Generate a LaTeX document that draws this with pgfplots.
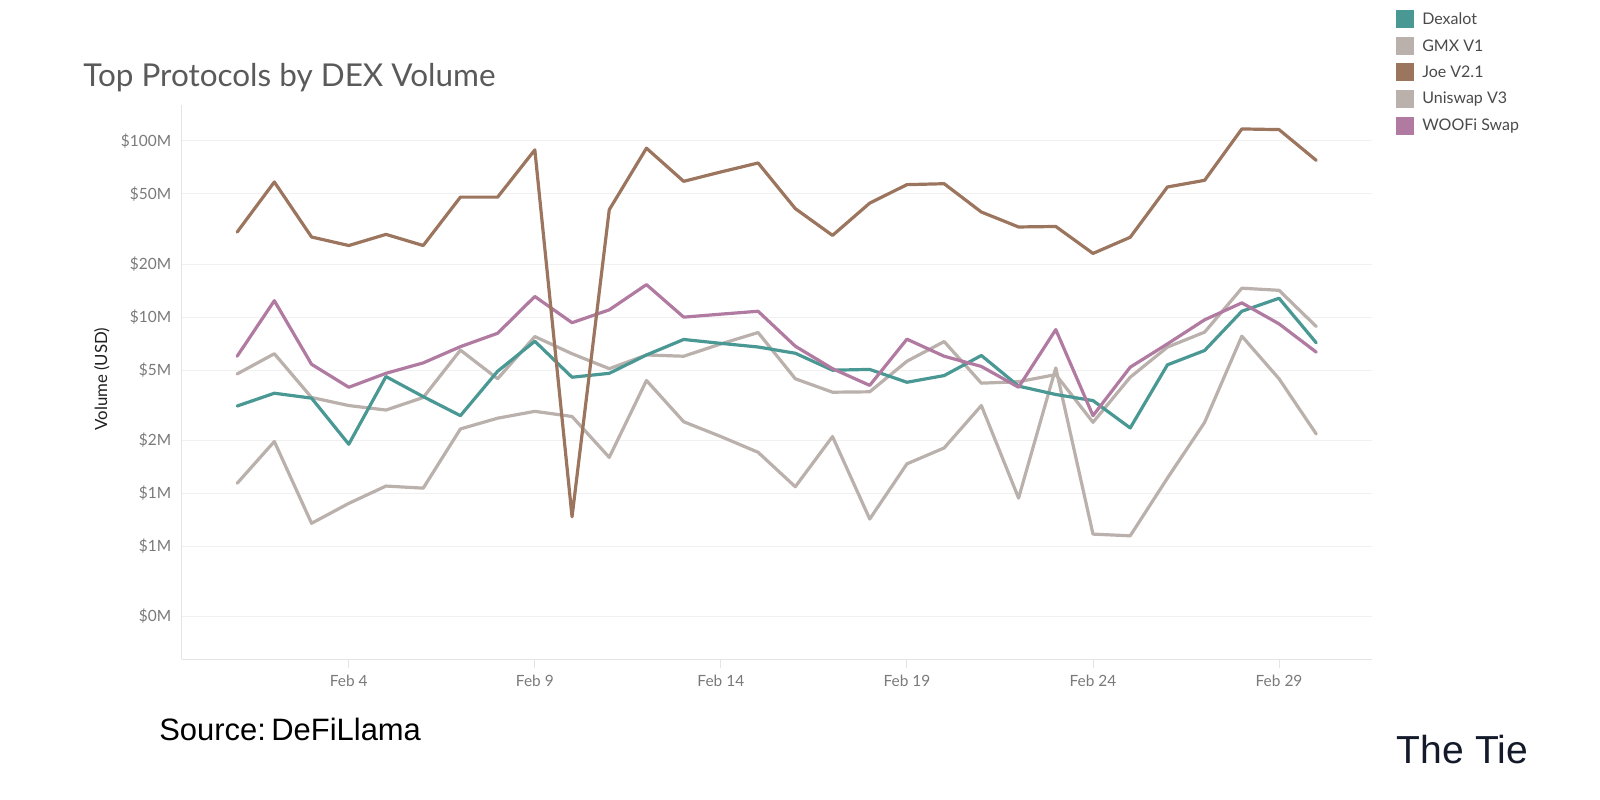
\documentclass[border=0pt]{standalone}
\usepackage{fontspec}
\setmainfont{Lato}
\newfontfamily\arialf{Liberation Sans}
\usepackage{pgfplots}
\pgfplotsset{compat=1.18}
\definecolor{cDex}{HTML}{499894}
\definecolor{cGMX}{HTML}{BAB0AC}
\definecolor{cJoe}{HTML}{9C755F}
\definecolor{cUni}{HTML}{BAB0AC}
\definecolor{cWoo}{HTML}{B07AA1}
\definecolor{cGrid}{HTML}{F0F0F0}
\definecolor{cAxis}{HTML}{E4E4E4}
\definecolor{cTick}{HTML}{7A7A7A}
\definecolor{cTitle}{HTML}{5A5A5A}
\definecolor{cLeg}{HTML}{4A4A4A}
\definecolor{cTie}{HTML}{141A2A}
\begin{document}
\begin{tikzpicture}[x=0.75pt,y=0.75pt]
\path[use as bounding box] (0,0) rectangle (1600,800);
\begin{axis}[
  at={(136.275pt,105.525pt)}, anchor=south west,
  scale only axis, width=892.5pt, height=415.725pt,
  ymode=log, xmin=-0.49, xmax=31.49, ymin=0.1143, ymax=160,
  axis x line*=bottom, axis y line*=left,
  axis line style={draw=cAxis, line width=0.75pt, -},
  xtick={4,9,14,19,24,29},
  xticklabels={Feb 4,Feb 9,Feb 14,Feb 19,Feb 24,Feb 29},
  ytick={0.2,0.5,1,2,5,10,20,50,100},
  yticklabels={\$0M,\$1M,\$1M,\$2M,\$5M,\$10M,\$20M,\$50M,\$100M},
  yminorticks=false, xminorticks=false,
  ymajorgrids, major grid style={draw=cGrid, line width=0.75pt},
  tick align=outside, major tick length=6.75pt,
  xtick style={draw=cAxis, line width=0.75pt},
  ytick style={draw=none},
  ticklabel style={font=\fontsize{11.6}{13}\selectfont, text=cTick},
  yticklabel style={xshift=2.4pt},
  xticklabel style={yshift=-1.5pt},
  ylabel={Volume (USD)},
  ylabel style={at={(rel axis cs:-0.0672,0.5054)}, anchor=center, rotate=0,
    font=\fontsize{12.6}{14}\selectfont, text=black!88},
  every axis plot/.append style={line width=2.4pt, line join=round, line cap=round, mark=none},
]
% Uniswap V3 (lower gray)
\addplot[cUni] coordinates {
(1,1.14)(2,1.97)(3,0.676)(4,0.877)(5,1.10)(6,1.07)(7,2.32)(8,2.67)(9,2.92)(10,2.73)
(11,1.60)(12,4.37)(13,2.55)(14,2.10)(15,1.71)(16,1.09)(17,2.10)(18,0.715)(19,1.47)(20,1.81)
(21,3.15)(22,0.94)(23,5.15)(24,0.587)(25,0.574)(26,1.22)(27,2.53)(28,7.8)(29,4.47)(30,2.17)};
% GMX V1 (upper gray)
\addplot[cGMX] coordinates {
(1,4.76)(2,6.2)(3,3.5)(4,3.15)(5,2.97)(6,3.5)(7,6.5)(8,4.47)(9,7.76)(10,6.2)
(11,5.1)(12,6.1)(13,6.0)(14,7.05)(15,8.18)(16,4.47)(17,3.75)(18,3.77)(19,5.62)(20,7.27)
(21,4.22)(22,4.3)(23,4.72)(24,2.53)(25,4.56)(26,6.76)(27,8.22)(28,14.6)(29,14.2)(30,8.85)};
% Dexalot
\addplot[cDex] coordinates {
(1,3.13)(2,3.7)(3,3.47)(4,1.9)(5,4.6)(6,3.54)(7,2.76)(8,4.93)(9,7.3)(10,4.56)
(11,4.8)(12,6.1)(13,7.47)(14,7.1)(15,6.77)(16,6.24)(17,5.0)(18,5.05)(19,4.27)(20,4.66)
(21,6.06)(22,4.06)(23,3.64)(24,3.36)(25,2.35)(26,5.36)(27,6.47)(28,10.8)(29,12.8)(30,7.15)};
% WOOFi Swap
\addplot[cWoo] coordinates {
(1,6.0)(2,12.4)(3,5.4)(4,4.0)(5,4.8)(6,5.5)(7,6.8)(8,8.1)(9,13.1)(10,9.3)
(11,11.0)(12,15.3)(13,10.0)(14,10.4)(15,10.8)(16,6.84)(17,5.1)(18,4.1)(19,7.5)(20,6.0)
(21,5.25)(22,4.0)(23,8.5)(24,2.76)(25,5.2)(26,7.05)(27,9.66)(28,12.05)(29,9.16)(30,6.33)};
% Joe V2.1
\addplot[cJoe] coordinates {
(1,30.4)(2,58.5)(3,28.5)(4,25.5)(5,29.5)(6,25.5)(7,48)(8,48)(9,89)(10,0.736)
(11,40.7)(12,91)(13,59)(14,66.7)(15,75)(16,41.3)(17,29.1)(18,44.4)(19,56.5)(20,57.2)
(21,39.5)(22,32.5)(23,32.7)(24,23.0)(25,28.4)(26,54.8)(27,59.8)(28,117)(29,116)(30,77.6)};
\end{axis}
% title
\node[anchor=base west, inner sep=0pt, font=\fontsize{23.6}{27}\selectfont, text=cTitle] at (83,713) {Top Protocols by DEX Volume};
% legend
\fill[cDex] (1396,790) rectangle (1414,772);
\fill[cGMX] (1396,763.3) rectangle (1414,745.3);
\fill[cJoe] (1396,736.6) rectangle (1414,718.6);
\fill[cUni] (1396,709.9) rectangle (1414,691.9);
\fill[cWoo] (1396,683.2) rectangle (1414,665.2);
\begin{scope}[every node/.style={anchor=west, inner sep=0pt, font=\fontsize{12}{14}\selectfont, text=cLeg}]
\node at (1422,781.2) {Dexalot};
\node at (1422,754.5) {GMX V1};
\node at (1422,727.8) {Joe V2.1};
\node at (1422,701.1) {Uniswap V3};
\node at (1422,674.4) {WOOFi Swap};
\end{scope}
% source and logo
\node[anchor=base west, inner sep=0pt, font=\arialf\fontsize{23.2}{27}\selectfont, text=black] at (159,59.3) {Source:\hspace{0.18em}DeFiLlama};
\node[anchor=base west, inner sep=0pt, font=\arialf\fontsize{29.3}{32}\selectfont, text=cTie] at (1396.7,36.7) {The Tie};
\end{tikzpicture}
\end{document}
